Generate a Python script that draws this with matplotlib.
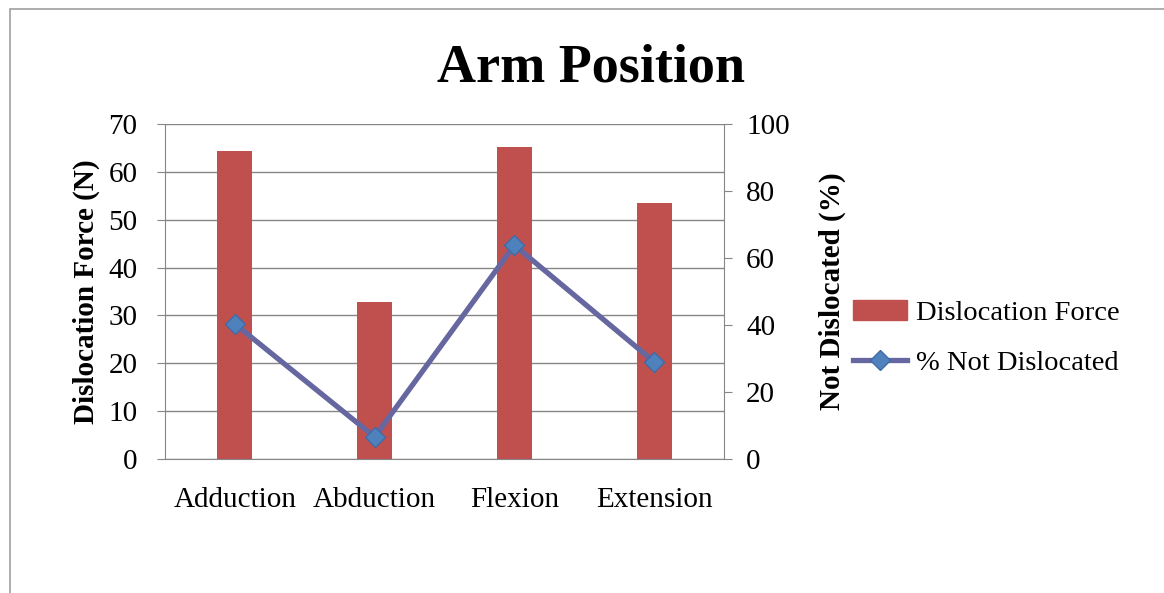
import matplotlib.pyplot as plt
import matplotlib.patches as mpatches
from matplotlib.lines import Line2D
import numpy as np

categories = ['Adduction', 'Abduction', 'Flexion', 'Extension']
force = [64.4, 32.9, 65.2, 53.4]
not_dislocated = [40.3, 6.6, 63.8, 29.0]

plt.rcParams['font.family'] = ['Liberation Serif', 'DejaVu Serif']

bar_col = '#C0504D'
line_col = '#6667A0'
mark_col = '#4F81BD'
grid_col = '#868686'

fig = plt.figure(figsize=(11.64, 5.93), dpi=100)
ax = fig.add_axes([0.1418, 0.226, 0.4802, 0.565])

x = np.arange(len(categories))
ax.bar(x, force, width=0.25, color=bar_col, zorder=2)
ax.set_xlim(-0.5, 3.5)
ax.set_ylim(0, 70)
ax.set_yticks(range(0, 71, 10))
ax.set_xticks(x)
ax.set_xticklabels(categories, fontsize=21)
ax.tick_params(axis='x', length=0, pad=20)
ax.tick_params(axis='y', labelsize=21, length=6, color=grid_col, pad=14)
ax.yaxis.grid(True, color=grid_col, linewidth=1)
ax.set_axisbelow(True)
for s in ['left', 'bottom']:
    ax.spines[s].set_color(grid_col)
ax.spines['top'].set_visible(False)
ax.spines['right'].set_visible(False)
ax.set_ylabel('Dislocation Force (N)', fontsize=21, fontweight='bold', labelpad=6)

ax2 = ax.twinx()
ax2.plot(x, not_dislocated, color=line_col, linewidth=3.8, marker='D',
         markersize=10, markerfacecolor=mark_col, markeredgecolor='#3F6BA6',
         markeredgewidth=1, zorder=3)
ax2.set_ylim(0, 100)
ax2.set_yticks(range(0, 101, 20))
ax2.tick_params(axis='y', labelsize=21, length=6, color=grid_col, pad=10)
ax2.spines['right'].set_color(grid_col)
for s in ['top', 'left', 'bottom']:
    ax2.spines[s].set_visible(False)
ax2.set_ylabel('Not Dislocated (%)', fontsize=21, fontweight='bold', labelpad=21)

fig.text(0.508, 0.885, 'Arm Position', ha='center', va='center',
         fontsize=39, fontweight='bold')

handles = [mpatches.Patch(color=bar_col),
           Line2D([0], [0], color=line_col, linewidth=3.8, marker='D',
                  markersize=10, markerfacecolor=mark_col, markeredgecolor='#3F6BA6')]
fig.legend(handles, ['Dislocation Force', '% Not Dislocated'],
           loc='center left', bbox_to_anchor=(0.711, 0.43), frameon=False,
           fontsize=20.5, handlelength=1.9, handletextpad=0.3, labelspacing=0.85)

# chart frame
fig.patches.append(mpatches.Rectangle((10 / 1164, -0.1), 1.2, 1.1 - 9 / 593,
                                      transform=fig.transFigure, fill=False,
                                      edgecolor='#A0A0A0', linewidth=1.2))

fig.savefig('out.png', dpi=100)
